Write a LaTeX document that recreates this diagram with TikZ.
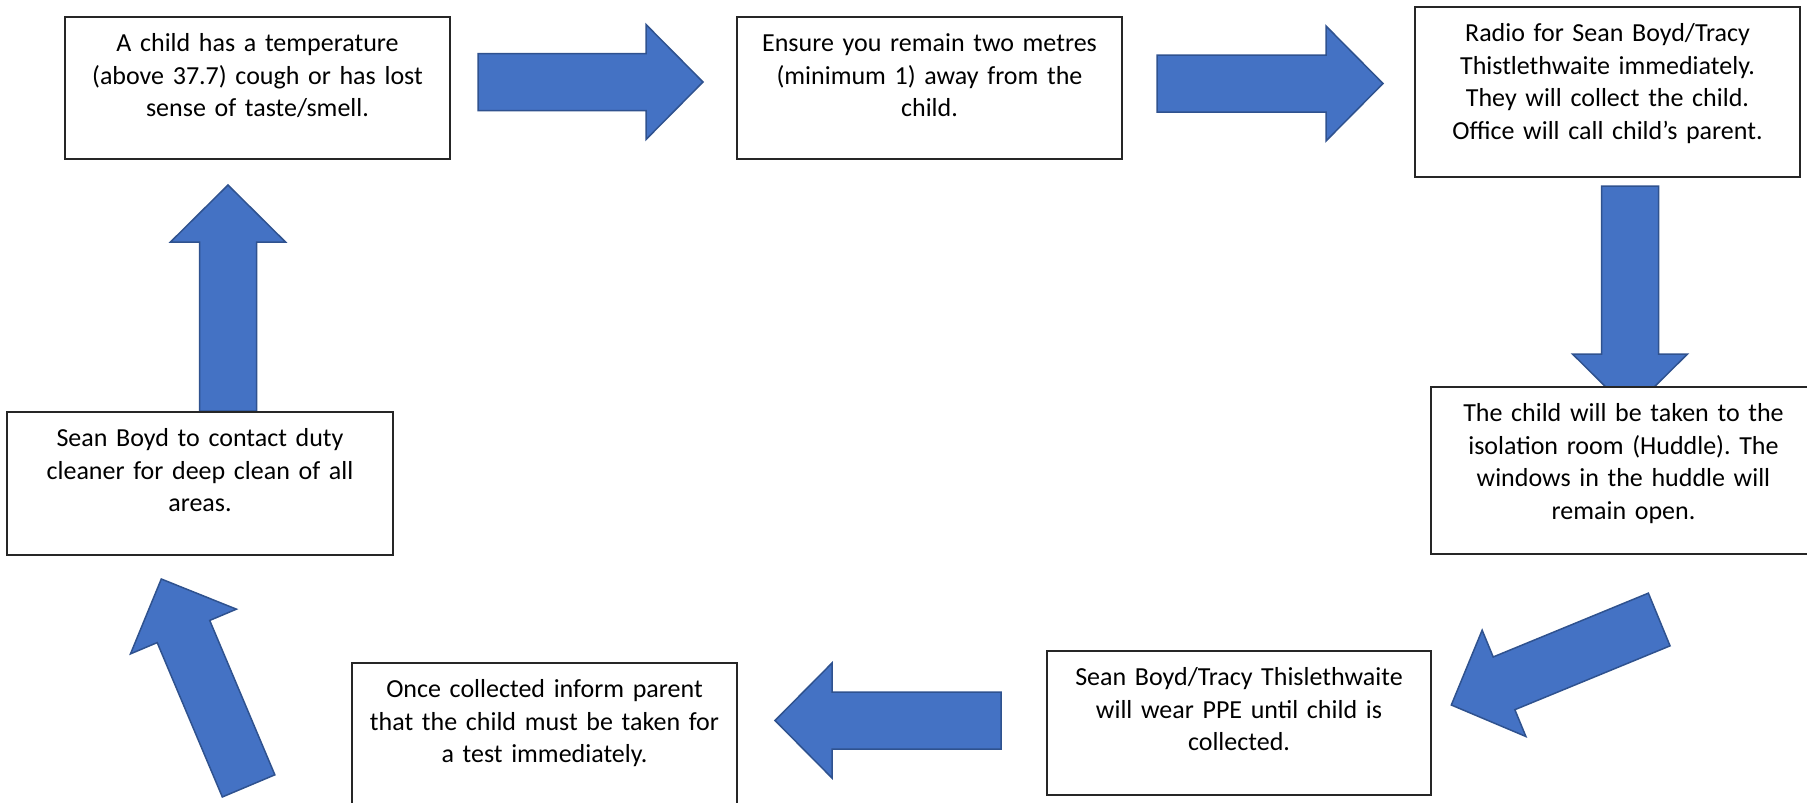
\documentclass[tikz,border=0pt]{standalone}
\usepackage{fontspec}
\setmainfont{Carlito}
\usetikzlibrary{calc, positioning}
\frenchspacing

\definecolor{arrowfill}{HTML}{4472C4}
\definecolor{arrowline}{HTML}{2F528F}

% block arrow from #1 (tail) to #2 (tip)
\newcommand{\blockarrow}[2]{%
  \path ($(#2)!57pt!(#1)$) coordinate (#2-base);
  \filldraw[flowarrow] ($(#1)!28.5pt!90:(#2)$) -- ($(#2-base)!28.5pt!-90:(#1)$)
    -- ($(#2-base)!57.5pt!-90:(#1)$) -- (#2) -- ($(#2-base)!57.5pt!90:(#1)$)
    -- ($(#2-base)!28.5pt!90:(#1)$) -- ($(#1)!28.5pt!-90:(#2)$) -- cycle;
}

\begin{document}
\begin{tikzpicture}[x=1pt, y=-1pt,
  stepbox/.style={draw=black!85, line width=1.3pt, fill=white,
                  minimum width=385pt, inner sep=0pt},
  steptext/.style={align=center, text width=370pt, inner sep=0pt, anchor=base,
                   font=\fontsize{26pt}{32.5pt}\selectfont},
  flowarrow/.style={fill=arrowfill, draw=arrowline, line width=1.5pt}
]
  \useasboundingbox (0,0) rectangle (1807,803);

  % Arrow ends
  \coordinate (tail1) at (478,82);      \coordinate (tip1) at (703,82);
  \coordinate (tail2) at (1157,83.5);   \coordinate (tip2) at (1383,83.5);
  \coordinate (tail3) at (1630,186);    \coordinate (tip3) at (1630,411);
  \coordinate (tail4) at (1659.2,619.5);\coordinate (tip4) at (1451.3,705);
  \coordinate (tail5) at (1001,720.5);  \coordinate (tip5) at (775,720.5);
  \coordinate (tail6) at (248.6,785.9); \coordinate (tip6) at (161.3,579);
  \coordinate (tail7) at (228,411);     \coordinate (tip7) at (228,185);

  % Block arrows first, boxes go on top
  \foreach \n in {1,...,7} {\blockarrow{tail\n}{tip\n}}

  % Top row
  \node[stepbox, minimum height=142pt] (onset) at (257.5,88) {};
  \node[steptext] (onset-text) at ([yshift=-35.5pt]onset.north)
    {A child has a temperature\\(above 37.7) cough or has lost\\sense of taste/smell.};

  \node[stepbox, minimum height=142pt] (distance) at (929.5,88) {};
  \node[steptext] (distance-text) at ([yshift=-35.5pt]distance.north)
    {Ensure you remain two metres\\(minimum 1) away from the\\child.};

  \node[stepbox, minimum height=170pt] (radio) at (1607.5,92) {};
  \node[steptext] (radio-text) at ([yshift=-35.5pt]radio.north)
    {Radio for Sean Boyd/Tracy\\Thistlethwaite immediately.\\They will collect the child.\\Office will call child’s parent.};

  % Right side
  \node[stepbox, minimum height=167pt] (isolation) at (1623.5,470.5) {};
  \node[steptext] (isolation-text) at ([yshift=-35.5pt]isolation.north)
    {The child will be taken to the\\isolation room (Huddle). The\\windows in the huddle will\\remain open.};

  % Bottom row
  \node[stepbox, minimum width=384pt, minimum height=144pt] (ppe) at (1239,723) {};
  \node[steptext] (ppe-text) at ([yshift=-35.5pt]ppe.north)
    {Sean Boyd/Tracy Thislethwaite\\will wear PPE until child is\\collected.};

  \node[stepbox, minimum height=142pt] (inform) at (544.5,734) {};
  \node[steptext] (inform-text) at ([yshift=-35.5pt]inform.north)
    {Once collected inform parent\\that the child must be taken for\\a test immediately.};

  % Left side
  \node[stepbox, minimum width=386pt, minimum height=143pt] (clean) at (200,483.5) {};
  \node[steptext] (clean-text) at ([yshift=-35.5pt]clean.north)
    {Sean Boyd to contact duty\\cleaner for deep clean of all\\areas.};

\end{tikzpicture}
\end{document}
